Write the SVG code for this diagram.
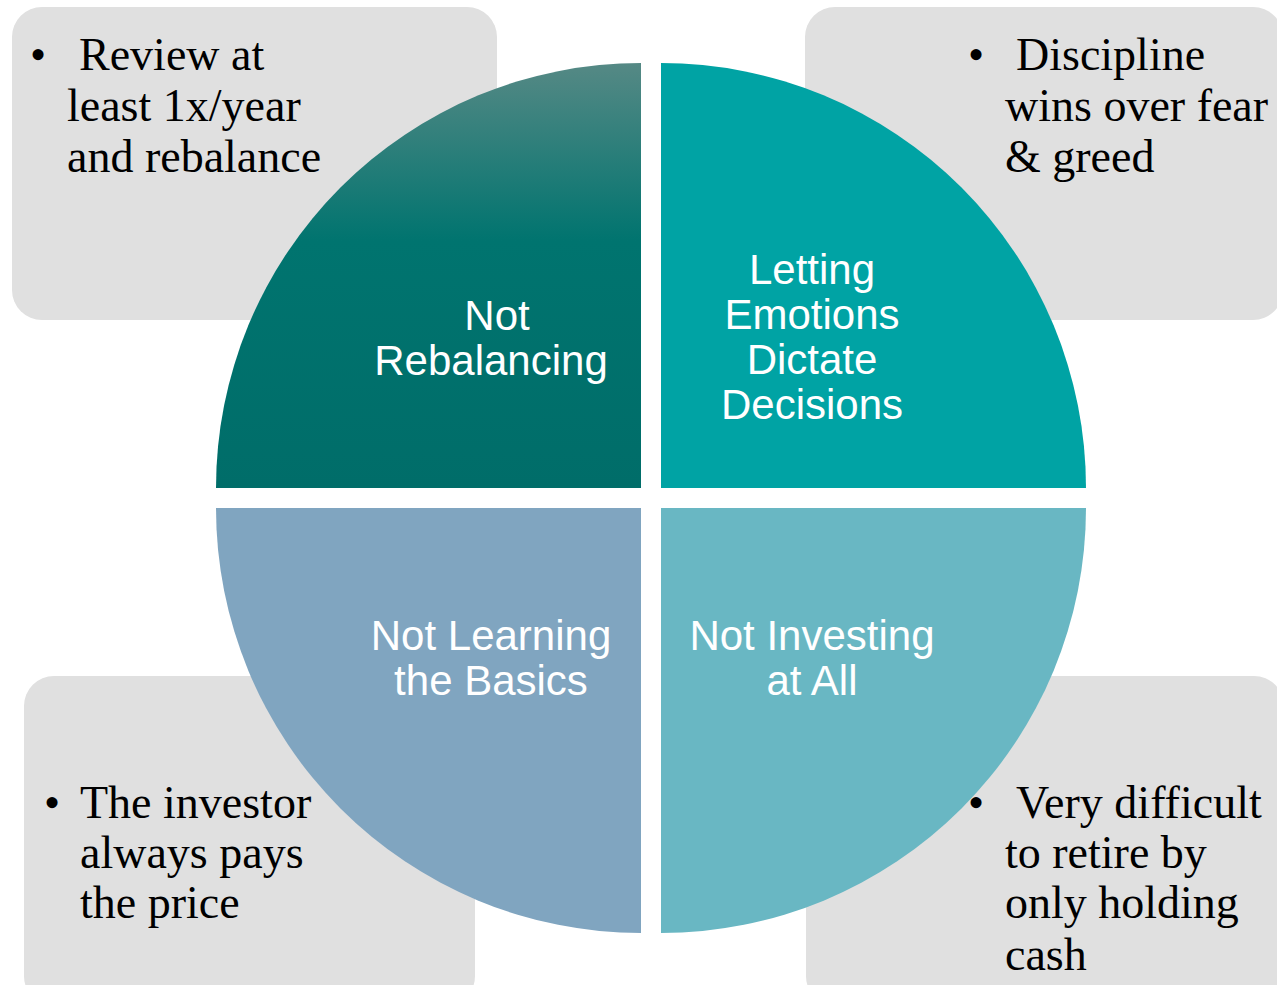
<svg xmlns="http://www.w3.org/2000/svg" width="1277" height="985" viewBox="0 0 1277 985">
<defs>
<linearGradient id="gTL" gradientUnits="userSpaceOnUse" x1="0" y1="62" x2="0" y2="488">
<stop offset="0" stop-color="#568985"/>
<stop offset="0.42" stop-color="#00746F"/>
<stop offset="1" stop-color="#006D69"/>
</linearGradient>
<style>
.box{fill:#E0E0E0;}
.note{font-family:"Liberation Serif","Times New Roman",serif;font-size:46px;fill:#000;}
.lbl{font-family:"Liberation Sans",Arial,sans-serif;font-size:42px;fill:#fff;text-anchor:middle;}
</style>
</defs>
<rect width="1277" height="985" fill="#fff"/>
<g id="note-tl">
<rect class="box" x="12" y="7" width="485" height="313" rx="30"/>
<text class="note"><tspan x="30" y="70">•</tspan><tspan x="79" y="70">Review at</tspan><tspan x="67" y="121">least 1x/year</tspan><tspan x="67" y="172">and rebalance</tspan></text>
</g>
<g id="note-tr">
<rect class="box" x="805" y="7" width="478" height="313" rx="30"/>
<text class="note"><tspan x="968" y="70">•</tspan><tspan x="1016" y="70">Discipline</tspan><tspan x="1005" y="121">wins over fear</tspan><tspan x="1005" y="172">&amp; greed</tspan></text>
</g>
<g id="note-bl">
<rect class="box" x="24" y="676" width="451" height="330" rx="30"/>
<text class="note"><tspan x="44" y="818">•</tspan><tspan x="80" y="818">The investor</tspan><tspan x="80" y="868">always pays</tspan><tspan x="80" y="918">the price</tspan></text>
</g>
<g id="note-br">
<rect class="box" x="806" y="676" width="478" height="330" rx="30"/>
<text class="note"><tspan x="968" y="818">•</tspan><tspan x="1016" y="818">Very difficult</tspan><tspan x="1005" y="868">to retire by</tspan><tspan x="1005" y="918">only holding</tspan><tspan x="1005" y="970">cash</tspan></text>
</g>
<g id="q-tl">
<path d="M641 488 L216 488 A425 425 0 0 1 641 63 Z" fill="url(#gTL)"/>
<text class="lbl"><tspan x="497" y="330">Not</tspan><tspan x="491" y="375">Rebalancing</tspan></text>
</g>
<g id="q-tr">
<path d="M661 488 L661 63 A425 425 0 0 1 1086 488 Z" fill="#00A3A4"/>
<text class="lbl"><tspan x="812" y="284">Letting</tspan><tspan x="812" y="329">Emotions</tspan><tspan x="812" y="374">Dictate</tspan><tspan x="812" y="419">Decisions</tspan></text>
</g>
<g id="q-bl">
<path d="M641 508 L641 933 A425 425 0 0 1 216 508 Z" fill="#80A5C0"/>
<text class="lbl"><tspan x="491" y="650">Not Learning</tspan><tspan x="491" y="695">the Basics</tspan></text>
</g>
<g id="q-br">
<path d="M661 508 L1086 508 A425 425 0 0 1 661 933 Z" fill="#69B7C3"/>
<text class="lbl"><tspan x="812" y="650">Not Investing</tspan><tspan x="812" y="695">at All</tspan></text>
</g>
<g id="connectors"/>
</svg>
